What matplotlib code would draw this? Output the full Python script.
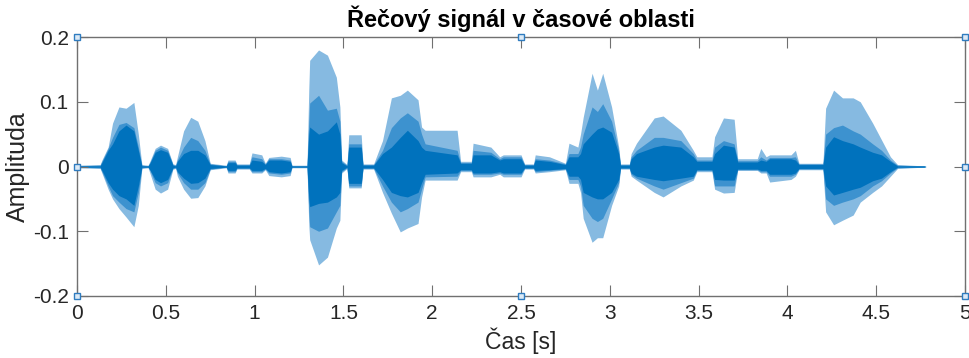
import matplotlib
matplotlib.use("Agg")
import matplotlib.pyplot as plt
import numpy as np

plt.rcParams['font.family'] = ['Liberation Sans', 'DejaVu Sans']
plt.rcParams['axes.unicode_minus'] = False

# obalky řečového signálu: čas [s] a amplituda vnější / střední / jádro
t = [0.00, 0.13, 0.14, 0.175, 0.20, 0.236, 0.276, 0.32, 0.345, 0.365,
     0.40, 0.41, 0.44, 0.47, 0.51, 0.54, 0.555, 0.565, 0.60, 0.64,
     0.68, 0.72, 0.75, 0.84, 0.85, 0.89, 0.90, 0.97, 0.985, 1.04,
     1.06, 1.08, 1.15, 1.20, 1.21, 1.295, 1.305, 1.31, 1.36, 1.41,
     1.46, 1.48, 1.49, 1.52, 1.53, 1.60, 1.61, 1.67, 1.72, 1.77,
     1.82, 1.86, 1.92, 1.94, 1.96, 2.14, 2.16, 2.22, 2.23, 2.33,
     2.38, 2.40, 2.50, 2.52, 2.57, 2.58, 2.66, 2.75, 2.77, 2.82,
     2.835, 2.85, 2.90, 2.93, 2.96, 3.01, 3.05, 3.06, 3.11, 3.12,
     3.15, 3.25, 3.30, 3.40, 3.47, 3.49, 3.575, 3.59, 3.64, 3.70,
     3.72, 3.83, 3.85, 3.88, 3.90, 4.02, 4.045, 4.065, 4.20, 4.215,
     4.26, 4.31, 4.37, 4.41, 4.48, 4.53, 4.58, 4.62, 4.77, 4.78]

top_outer = [.002, .003, .010, .030, .067, .092, .090, .099, .050, .003,
             .002, .008, .028, .033, .028, .004, .003, .015, .055, .076,
             .070, .040, .005, .002, .010, .010, .004, .004, .021, .018,
             .005, .014, .016, .014, .002, .002, .120, .164, .180, .172,
             .138, .092, .010, .003, .049, .049, .004, .004, .040, .106,
             .110, .118, .103, .061, .056, .056, .008, .008, .036, .030,
             .015, .018, .018, .004, .004, .018, .015, .005, .036, .030,
             .050, .076, .144, .118, .144, .092, .030, .004, .004, .020,
             .036, .075, .078, .056, .025, .015, .015, .046, .075, .073,
             .012, .012, .028, .015, .018, .018, .025, .005, .005, .090,
             .118, .106, .106, .100, .067, .041, .015, .003, .001, 0]

top_mid = [.001, .002, .008, .028, .045, .065, .068, .060, .030, .002,
           .001, .006, .025, .030, .025, .003, .002, .010, .030, .045,
           .040, .025, .004, .001, .008, .008, .003, .003, .015, .012,
           .004, .012, .012, .010, .001, .001, .070, .098, .110, .087,
           .090, .070, .008, .002, .035, .035, .003, .003, .025, .060,
           .075, .083, .070, .050, .035, .025, .006, .006, .025, .022,
           .012, .015, .015, .003, .003, .012, .010, .004, .020, .020,
           .030, .050, .092, .085, .097, .070, .025, .003, .003, .015,
           .025, .045, .045, .040, .020, .010, .010, .030, .040, .035,
           .009, .009, .015, .010, .014, .014, .015, .004, .004, .050,
           .060, .064, .055, .050, .035, .025, .010, .002, .001, 0]

top_core = [.001, .001, .006, .025, .035, .055, .064, .055, .025, .001,
            .001, .005, .022, .026, .022, .002, .001, .008, .020, .025,
            .025, .018, .003, .001, .006, .006, .002, .002, .010, .008,
            .003, .010, .010, .008, .001, .001, .050, .061, .050, .055,
            .069, .050, .006, .001, .030, .030, .002, .002, .020, .030,
            .045, .056, .040, .030, .025, .018, .005, .005, .018, .018,
            .010, .012, .012, .002, .002, .010, .008, .003, .015, .015,
            .020, .035, .050, .058, .061, .053, .020, .002, .002, .012,
            .020, .030, .033, .030, .015, .008, .008, .020, .033, .030,
            .007, .007, .010, .008, .012, .012, .010, .003, .003, .030,
            .046, .040, .035, .030, .022, .018, .008, .001, .001, 0]

bot_core = [-.001, -.001, -.006, -.025, -.035, -.045, -.050, -.060, -.030, -.001,
            -.001, -.005, -.020, -.025, -.020, -.002, -.001, -.008, -.018, -.026,
            -.025, -.018, -.003, -.001, -.006, -.006, -.002, -.002, -.006, -.006,
            -.003, -.008, -.010, -.008, -.001, -.001, -.050, -.062, -.057, -.055,
            -.047, -.040, -.006, -.001, -.026, -.026, -.002, -.002, -.020, -.040,
            -.045, -.047, -.040, -.025, -.012, -.010, -.005, -.005, -.010, -.010,
            -.008, -.010, -.010, -.002, -.002, -.006, -.005, -.003, -.015, -.015,
            -.020, -.040, -.047, -.050, -.050, -.040, -.020, -.002, -.002, -.010,
            -.015, -.020, -.022, -.018, -.015, -.005, -.005, -.020, -.021, -.021,
            -.004, -.004, -.006, -.006, -.012, -.012, -.010, -.003, -.003, -.030,
            -.044, -.040, -.035, -.032, -.022, -.018, -.008, -.001, -.001, 0]

bot_mid = [-.001, -.002, -.008, -.030, -.045, -.055, -.065, -.070, -.040, -.002,
           -.001, -.006, -.025, -.030, -.025, -.003, -.002, -.010, -.025, -.035,
           -.035, -.025, -.004, -.001, -.008, -.008, -.003, -.003, -.008, -.008,
           -.004, -.010, -.012, -.010, -.001, -.001, -.070, -.093, -.100, -.095,
           -.070, -.060, -.008, -.002, -.030, -.030, -.003, -.003, -.030, -.055,
           -.070, -.065, -.055, -.035, -.016, -.015, -.006, -.006, -.012, -.012,
           -.010, -.012, -.012, -.003, -.003, -.008, -.006, -.004, -.020, -.020,
           -.030, -.060, -.080, -.085, -.080, -.050, -.025, -.003, -.003, -.012,
           -.018, -.030, -.035, -.025, -.018, -.006, -.006, -.030, -.030, -.030,
           -.005, -.005, -.008, -.008, -.015, -.015, -.012, -.004, -.004, -.050,
           -.060, -.055, -.050, -.045, -.030, -.022, -.010, -.002, -.001, 0]

bot_outer = [-.002, -.003, -.010, -.035, -.050, -.065, -.078, -.093, -.060, -.003,
             -.002, -.010, -.035, -.041, -.035, -.004, -.003, -.015, -.035, -.049,
             -.048, -.030, -.005, -.002, -.010, -.010, -.004, -.004, -.010, -.010,
             -.005, -.014, -.016, -.014, -.002, -.002, -.090, -.113, -.152, -.140,
             -.095, -.083, -.010, -.003, -.033, -.033, -.004, -.004, -.040, -.072,
             -.101, -.095, -.088, -.047, -.021, -.021, -.008, -.008, -.016, -.016,
             -.012, -.016, -.016, -.004, -.004, -.010, -.008, -.005, -.026, -.026,
             -.040, -.080, -.117, -.110, -.110, -.060, -.030, -.004, -.004, -.015,
             -.021, -.040, -.047, -.030, -.021, -.008, -.008, -.035, -.041, -.040,
             -.006, -.006, -.010, -.010, -.024, -.020, -.015, -.005, -.005, -.070,
             -.090, -.083, -.075, -.055, -.040, -.030, -.015, -.003, -.001, 0]

x_ticks = [0, 0.5, 1, 1.5, 2, 2.5, 3, 3.5, 4, 4.5, 5]
x_labels = ['0', '0.5', '1', '1.5', '2', '2.5', '3', '3.5', '4', '4.5', '5']
y_ticks = [-0.2, -0.1, 0, 0.1, 0.2]
y_labels = ['-0.2', '-0.1', '0', '0.1', '0.2']

fig = plt.figure(figsize=(9.69, 3.58), dpi=100)
ax = fig.add_axes([0.0795, 0.1732, 0.9164, 0.7234])

ax.fill_between(t, bot_outer, top_outer, color='#86bae1', lw=0)
ax.fill_between(t, bot_mid, top_mid, color='#3d92cf', lw=0)
ax.fill_between(t, bot_core, top_core, color='#0072bd', lw=0)

ax.set_xlim(0, 5)
ax.set_ylim(-0.2, 0.2)
ax.set_xticks(x_ticks, x_labels)
ax.set_yticks(y_ticks, y_labels)

for s in ax.spines.values():
    s.set_color('#707070')
    s.set_linewidth(1.0)
ax.tick_params(direction='in', length=8, width=0.8, color='#707070',
               labelcolor='#262626', labelsize=15, top=True, right=True, pad=6)

ax.set_title('Řečový signál v časové oblasti', fontsize=17,
             fontweight='bold', pad=7)
ax.set_xlabel('Čas [s]', fontsize=16.5, color='#262626', labelpad=3)
ax.set_ylabel('Amplituda', fontsize=18, color='#262626', labelpad=2)

# úchyty výběru osy
hx = [0, 2.5, 5, 5, 5, 2.5, 0, 0]
hy = [0.2, 0.2, 0.2, 0, -0.2, -0.2, -0.2, 0]
ax.plot(hx, hy, 's', ms=4, mfc='#dceaf6', mec='#2f7cc0', mew=1,
        clip_on=False, zorder=5)

fig.savefig('out.png', dpi=100)
